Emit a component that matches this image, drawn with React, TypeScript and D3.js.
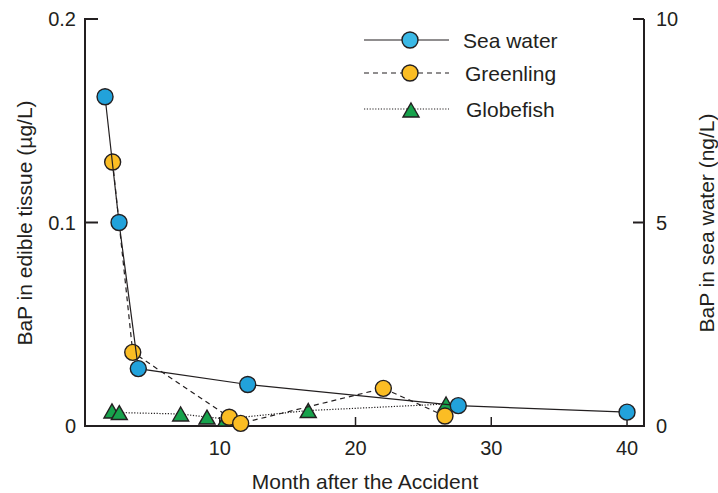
import React, { useEffect, useRef } from "react";
import * as d3 from "d3";

// months after the accident / concentrations
const seaMonths = [1.55, 2.58, 4.0, 12.06, 27.57, 40.0];
const seaValues = [8.09, 5.0, 1.41, 1.02, 0.5, 0.34]; // ng/L, right axis

const greenlingMonths = [2.11, 3.59, 10.7, 11.54, 22.05, 26.59];
const greenlingValues = [0.1297, 0.0362, 0.0043, 0.0013, 0.0185, 0.0049]; // µg/L

const globefishMonths = [2.06, 2.6, 7.12, 9.06, 10.45, 16.52, 26.67];
const globefishValues = [0.0074, 0.0066, 0.0059, 0.0044, 0.0035, 0.0076, 0.0108];

const xTicks = [10, 20, 30, 40];
const leftTicks = [0, 0.1, 0.2];
const rightTicks = [0, 5, 10];

const legendItems = ["Sea water", "Greenling", "Globefish"];

const INK = "#231f20";
const BLUE = "#22a2db";
const ORANGE = "#fbbd24";
const GREEN = "#17a24c";
const FONT = "'Liberation Sans', Arial, sans-serif";

const W = 718;
const H = 493;

const App: React.FC = () => {
  const svgRef = useRef<SVGSVGElement>(null);

  useEffect(() => {
    if (!svgRef.current) return;
    const svg = d3.select(svgRef.current);
    svg.selectAll("*").remove();

    const x = d3.scaleLinear().domain([0, 41.25]).range([84, 644]);
    const yL = d3.scaleLinear().domain([0, 0.2]).range([426, 19]);
    const yR = d3.scaleLinear().domain([0, 10]).range([426, 19]);

    const g = svg.append("g").attr("font-family", FONT).attr("fill", INK);

    // axes frame (left, bottom, right)
    g.append("path")
      .attr("d", `M${x(0) + 1},${yL(0.2) - 1}V${yL(0)}H${x(41.25)}V${yR(10)}`)
      .attr("fill", "none")
      .attr("stroke", INK)
      .attr("stroke-width", 2);

    // left ticks (inward)
    leftTicks.filter((t) => t > 0).forEach((t) => {
      g.append("line")
        .attr("x1", x(0))
        .attr("x2", x(0) + 14)
        .attr("y1", yL(t))
        .attr("y2", yL(t))
        .attr("stroke", INK)
        .attr("stroke-width", 2);
    });
    g.selectAll(".ltl")
      .data(leftTicks)
      .enter()
      .append("text")
      .attr("x", 76)
      .attr("y", (d) => yL(d))
      .attr("dy", "0.36em")
      .attr("text-anchor", "end")
      .attr("font-size", 20)
      .text((d) => (d === 0 ? "0" : d3.format(".1f")(d)));

    // right ticks (inward)
    rightTicks.filter((t) => t > 0).forEach((t) => {
      g.append("line")
        .attr("x1", x(41.25) - 11)
        .attr("x2", x(41.25))
        .attr("y1", yR(t))
        .attr("y2", yR(t))
        .attr("stroke", INK)
        .attr("stroke-width", 2);
    });
    g.selectAll(".rtl")
      .data(rightTicks)
      .enter()
      .append("text")
      .attr("x", 656)
      .attr("y", (d) => yR(d))
      .attr("dy", "0.36em")
      .attr("font-size", 20)
      .text((d) => String(d));

    // bottom ticks (inward)
    xTicks.forEach((t) => {
      g.append("line")
        .attr("x1", x(t))
        .attr("x2", x(t))
        .attr("y1", yL(0))
        .attr("y2", yL(0) - 9)
        .attr("stroke", INK)
        .attr("stroke-width", 1.5);
    });
    g.selectAll(".xtl")
      .data(xTicks)
      .enter()
      .append("text")
      .attr("x", (d) => x(d))
      .attr("y", 448)
      .attr("dy", "0.36em")
      .attr("text-anchor", "middle")
      .attr("font-size", 20)
      .text((d) => String(d));

    // axis titles
    g.append("text")
      .attr("x", 365)
      .attr("y", 489)
      .attr("text-anchor", "middle")
      .attr("font-size", 21)
      .text("Month after the Accident");
    g.append("text")
      .attr("transform", "translate(32,223) rotate(-90)")
      .attr("text-anchor", "middle")
      .attr("font-size", 21)
      .text("BaP in edible tissue (µg/L)");
    g.append("text")
      .attr("transform", "translate(714,223) rotate(-90)")
      .attr("text-anchor", "middle")
      .attr("font-size", 21)
      .text("BaP in sea water (ng/L)");

    const tri = "M0,-7L8,7L-8,7Z";

    // globefish (dotted)
    const globe = globefishMonths.map((m, i) => [x(m), yL(globefishValues[i])] as [number, number]);
    g.append("path")
      .attr("d", d3.line()(globe))
      .attr("fill", "none")
      .attr("stroke", INK)
      .attr("stroke-width", 1.2)
      .attr("stroke-dasharray", "1.2,1.6");
    g.selectAll(".gf")
      .data(globe)
      .enter()
      .append("path")
      .attr("d", tri)
      .attr("transform", (d) => `translate(${d[0]},${d[1]})`)
      .attr("fill", GREEN)
      .attr("stroke", INK)
      .attr("stroke-width", 1.4);

    // greenling (dashed)
    const green = greenlingMonths.map((m, i) => [x(m), yL(greenlingValues[i])] as [number, number]);
    g.append("path")
      .attr("d", d3.line()(green))
      .attr("fill", "none")
      .attr("stroke", INK)
      .attr("stroke-width", 1.2)
      .attr("stroke-dasharray", "5,4");
    g.selectAll(".gl")
      .data(green)
      .enter()
      .append("circle")
      .attr("cx", (d) => d[0])
      .attr("cy", (d) => d[1])
      .attr("r", 8)
      .attr("fill", ORANGE)
      .attr("stroke", INK)
      .attr("stroke-width", 1.4);

    // sea water (solid, right axis)
    const sea = seaMonths.map((m, i) => [x(m), yR(seaValues[i])] as [number, number]);
    g.append("path")
      .attr("d", d3.line()(sea))
      .attr("fill", "none")
      .attr("stroke", INK)
      .attr("stroke-width", 1.2);
    g.selectAll(".sw")
      .data(sea)
      .enter()
      .append("circle")
      .attr("cx", (d) => d[0])
      .attr("cy", (d) => d[1])
      .attr("r", 8)
      .attr("fill", BLUE)
      .attr("stroke", INK)
      .attr("stroke-width", 1.4);

    // legend
    const legY = [40, 73, 109];
    const dashes = [null, "5,4", "1.2,1.6"];
    const fills = ["#3bb9e6", ORANGE, GREEN];
    legendItems.forEach((name, i) => {
      const row = g.append("g").attr("transform", `translate(0,${legY[i]})`);
      row.append("line")
        .attr("x1", 364)
        .attr("x2", 449)
        .attr("stroke", INK)
        .attr("stroke-width", 1.2)
        .attr("stroke-dasharray", dashes[i]);
      if (i < 2) {
        row.append("circle")
          .attr("cx", 410)
          .attr("r", 8)
          .attr("fill", fills[i])
          .attr("stroke", INK)
          .attr("stroke-width", 1.4);
      } else {
        row.append("path")
          .attr("d", tri)
          .attr("transform", "translate(411,1)")
          .attr("fill", fills[i])
          .attr("stroke", INK)
          .attr("stroke-width", 1.4);
      }
      row.append("text")
        .attr("x", 463 + (i === 0 ? 0 : i === 1 ? 2 : 3))
        .attr("dy", "0.36em")
        .attr("font-size", 21)
        .text(name);
    });
  }, []);

  return (
    <svg
      ref={svgRef}
      width={W}
      height={H}
      viewBox={`0 0 ${W} ${H}`}
      style={{ position: "absolute", left: 0, top: 0, background: "#fff" }}
    />
  );
};

export default App;
